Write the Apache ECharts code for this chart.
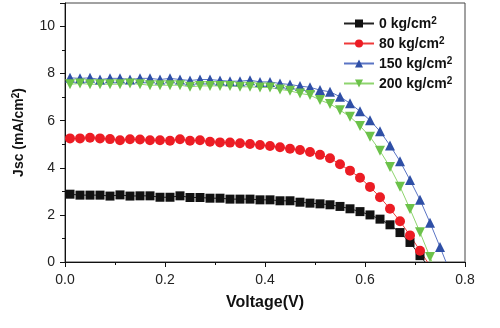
<!DOCTYPE html>
<html>
<head>
<meta charset="utf-8">
<script src="https://cdn.jsdelivr.net/npm/echarts@6/dist/echarts.min.js"></script>
<style>html,body{margin:0;padding:0;background:#fff}#c{width:500px;height:328px}</style>
</head>
<body>
<div id="c"></div>
<script>
var voltage = [0.01,0.03,0.05,0.07,0.09,0.11,0.13,0.15,0.17,0.19,0.21,0.23,0.25,0.27,0.29,0.31,0.33,0.35,0.37,0.39,0.41,0.43,0.45,0.47,0.49,0.51,0.53,0.55,0.57,0.59,0.61,0.63,0.65,0.67,0.69,0.71,0.73,0.75];
var js0 = [2.88,2.84,2.84,2.84,2.80,2.85,2.80,2.81,2.81,2.75,2.75,2.81,2.74,2.74,2.71,2.71,2.67,2.67,2.67,2.64,2.64,2.60,2.60,2.54,2.50,2.47,2.43,2.36,2.26,2.14,2.00,1.82,1.58,1.25,0.83,0.27];
var js80 = [5.25,5.25,5.28,5.25,5.22,5.17,5.21,5.20,5.17,5.17,5.15,5.21,5.15,5.17,5.11,5.08,5.07,5.04,5.01,4.97,4.93,4.87,4.81,4.76,4.67,4.55,4.41,4.15,3.88,3.58,3.19,2.75,2.26,1.73,1.13,0.48];
var js150 = [7.82,7.80,7.82,7.75,7.80,7.80,7.75,7.80,7.80,7.75,7.80,7.75,7.71,7.75,7.75,7.71,7.68,7.68,7.72,7.65,7.65,7.58,7.54,7.47,7.42,7.30,7.23,7.02,6.74,6.40,6.02,5.55,4.95,4.28,3.48,2.64,1.67,0.64];
var js200 = [7.55,7.58,7.55,7.55,7.55,7.55,7.58,7.55,7.51,7.51,7.51,7.51,7.44,7.48,7.48,7.48,7.48,7.44,7.44,7.41,7.41,7.33,7.27,7.16,7.09,6.88,6.71,6.45,6.17,5.78,5.32,4.72,4.03,3.20,2.25,1.26,0.21];
var voc = [0.72, 0.725, 0.762, 0.734];
var names = ['0 kg/cm2','80 kg/cm2','150 kg/cm2','200 kg/cm2'];
var xTicks = [0, 0.2, 0.4, 0.6, 0.8];
var yTicks = [0, 2, 4, 6, 8, 10];

function build(vals, v0) {
  var d = vals.map(function (y, i) { return [voltage[i], y]; });
  d.push({ value: [v0, 0], symbol: 'none' });
  return d;
}
var colors = ['#111111', '#ec1c24', '#2f4fa6', '#6cc24a'];
var lineColors = ['#222222', '#ee3a3a', '#5a74c4', '#8ed46e'];
var symbols = ['rect', 'circle', 'triangle', 'path://M0,0 L10,0 L5,9 Z'];
var sizes = [9, 10, 10, 10];
var sets = [js0, js80, js150, js200];

var series = sets.map(function (s, i) {
  return {
    name: names[i], type: 'line', data: build(s, voc[i]),
    symbol: symbols[i], symbolSize: sizes[i], showAllSymbol: true,
    itemStyle: { color: colors[i] },
    lineStyle: { color: lineColors[i], width: 1 },
    clip: true, animation: false
  };
});

var FONT = 'Liberation Sans';
var chart = echarts.init(document.getElementById('c'), null, { renderer: 'canvas' });
chart.setOption({
  animation: false,
  backgroundColor: '#fff',
  grid: { left: 65, right: 35, top: 3, bottom: 66, show: true, borderColor: '#444', borderWidth: 1, backgroundColor: 'transparent' },
  legend: {
    orient: 'vertical', left: 338, top: 11, itemWidth: 30, itemHeight: 10, itemGap: 5, padding: 5,
    data: names,
    formatter: function (n) { return '{t|' + n.replace('cm2', 'cm') + '}{s|2}'; },
    textStyle: { fontFamily: FONT, fontWeight: 'bold', fontSize: 14, color: '#111',
      rich: {
        t: { fontFamily: FONT, fontWeight: 'bold', fontSize: 14, color: '#111', lineHeight: 15, verticalAlign: 'bottom' },
        s: { fontFamily: FONT, fontWeight: 'bold', fontSize: 10, color: '#111', lineHeight: 15, verticalAlign: 'top' }
      } }
  },
  xAxis: {
    type: 'value', min: 0, max: 0.8, interval: 0.2,
    name: 'Voltage(V)', nameLocation: 'middle', nameGap: 33,
    nameTextStyle: { fontFamily: FONT, fontWeight: 'bold', fontSize: 16, color: '#111' },
    axisLine: { show: true, lineStyle: { color: '#111', width: 1 } },
    axisTick: { show: true, inside: false, length: 5, lineStyle: { color: '#111' } },
    minorTick: { show: true, splitNumber: 2, length: 3, lineStyle: { color: '#111' } },
    splitLine: { show: false },
    axisLabel: { fontFamily: FONT, fontSize: 14, color: '#222', margin: 11,
      formatter: function (v) { return xTicks.indexOf(Math.round(v * 10) / 10) >= 0 ? v.toFixed(1) : ''; } }
  },
  yAxis: {
    type: 'value', min: 0, max: 11, interval: 2,
    name: '{t|Jsc (mA/cm}{s|2}{t|)}', nameLocation: 'middle', nameGap: 39, nameRotate: 90,
    nameTextStyle: { fontFamily: FONT, fontWeight: 'bold', fontSize: 14, color: '#111',
      rich: {
        t: { fontFamily: FONT, fontWeight: 'bold', fontSize: 14, color: '#111', lineHeight: 15, verticalAlign: 'bottom' },
        s: { fontFamily: FONT, fontWeight: 'bold', fontSize: 10, color: '#111', lineHeight: 15, verticalAlign: 'top' }
      } },
    axisLine: { show: true, lineStyle: { color: '#111', width: 1 } },
    axisTick: { show: true, inside: false, length: 5, lineStyle: { color: '#111' } },
    minorTick: { show: true, splitNumber: 2, length: 3, lineStyle: { color: '#111' } },
    splitLine: { show: false },
    axisLabel: { fontFamily: FONT, fontSize: 14, color: '#222', margin: 10, showMaxLabel: false,
      formatter: function (v) { return yTicks.indexOf(v) >= 0 ? String(v) : ''; } }
  },
  series: series
});
</script>
</body>
</html>
